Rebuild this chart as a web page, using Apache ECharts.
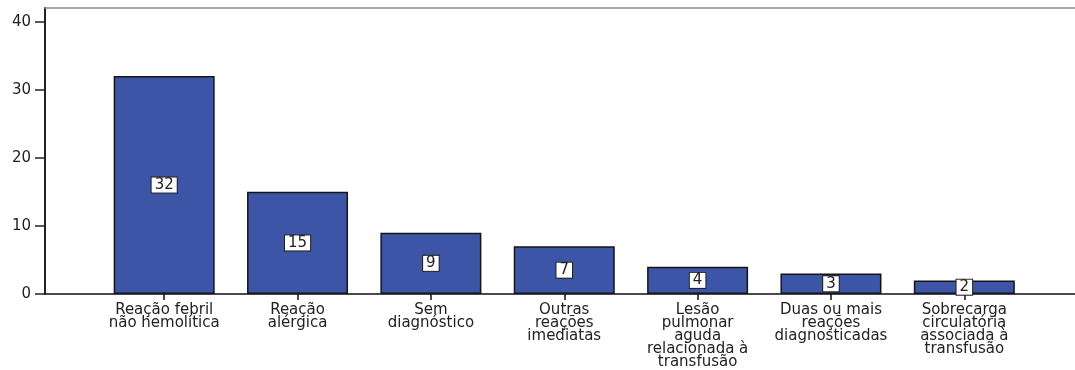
<!DOCTYPE html>
<html>
<head>
<meta charset="utf-8">
<script src="https://cdn.jsdelivr.net/npm/echarts@6/dist/echarts.min.js"></script>
<style>
  html, body { margin: 0; padding: 0; background: #fff; }
  #chart { width: 1075px; height: 370px; }
</style>
</head>
<body>
<div id="chart"></div>
<script>
// Reações transfusionais por tipo (contagem)
const categories = [
  'Reação febril\nnão hemolítica',
  'Reação\nalérgica',
  'Sem\ndiagnóstico',
  'Outras\nreações\nimediatas',
  'Lesão\npulmonar\naguda\nrelacionada à\ntransfusão',
  'Duas ou mais\nreações\ndiagnosticadas',
  'Sobrecarga\ncirculatória\nassociada à\ntransfusão'
];
const counts = [32, 15, 9, 7, 4, 3, 2];
const yTicks = [0, 10, 20, 30, 40];

const FONT = 'DejaVu Sans';
const chart = echarts.init(document.getElementById('chart'), null, { renderer: 'canvas' });

// plain frame axis: only the line is drawn
function frameAxis(position, color, width) {
  return {
    gridIndex: 0, type: 'value', min: 0, max: 1, position: position,
    axisLine: { show: true, onZero: false, lineStyle: { color: color, width: width } },
    axisTick: { show: false }, axisLabel: { show: false }, splitLine: { show: false }
  };
}

chart.setOption({
  animation: false,
  backgroundColor: '#ffffff',
  grid: [
    // plot box spanning to the right edge
    { left: 45, right: 0, top: 8, bottom: 76 },
    // bars
    { left: 97.5, right: 44, top: 8, bottom: 76 }
  ],
  xAxis: [
    frameAxis('bottom', '#111', 1.5),
    frameAxis('top', '#8a8a8a', 1.5),
    {
      gridIndex: 1, type: 'category', data: categories,
      axisLine: { show: false },
      axisTick: { show: true, alignWithLabel: true, length: 6, lineStyle: { color: '#111', width: 1.5 } },
      axisLabel: {
        interval: 0, margin: 10, color: '#222',
        fontFamily: FONT, fontSize: 15, lineHeight: 13, align: 'center'
      },
      splitLine: { show: false }
    }
  ],
  yAxis: [
    { gridIndex: 0, type: 'value', min: 0, max: 1, show: false },
    {
      gridIndex: 1, type: 'value', min: 0, max: 42, offset: 52.5,
      axisLine: { show: true, lineStyle: { color: '#222', width: 2 } },
      axisTick: { show: true, length: 10, customValues: yTicks, lineStyle: { color: '#222', width: 1.5 } },
      axisLabel: { customValues: yTicks, margin: 14, color: '#222', fontFamily: FONT, fontSize: 15 },
      splitLine: { show: false }
    }
  ],
  series: [
    {
      type: 'bar',
      xAxisIndex: 2, yAxisIndex: 1,
      data: counts,
      barWidth: 101,
      itemStyle: { color: '#3d55a6', borderColor: '#151515', borderWidth: 1.5 },
      label: {
        show: true, position: 'inside',
        color: '#222', fontFamily: FONT, fontSize: 15, lineHeight: 14,
        backgroundColor: '#ffffff', borderColor: '#222', borderWidth: 1,
        padding: [1, 3, 0, 3]
      }
    }
  ]
});
</script>
</body>
</html>
